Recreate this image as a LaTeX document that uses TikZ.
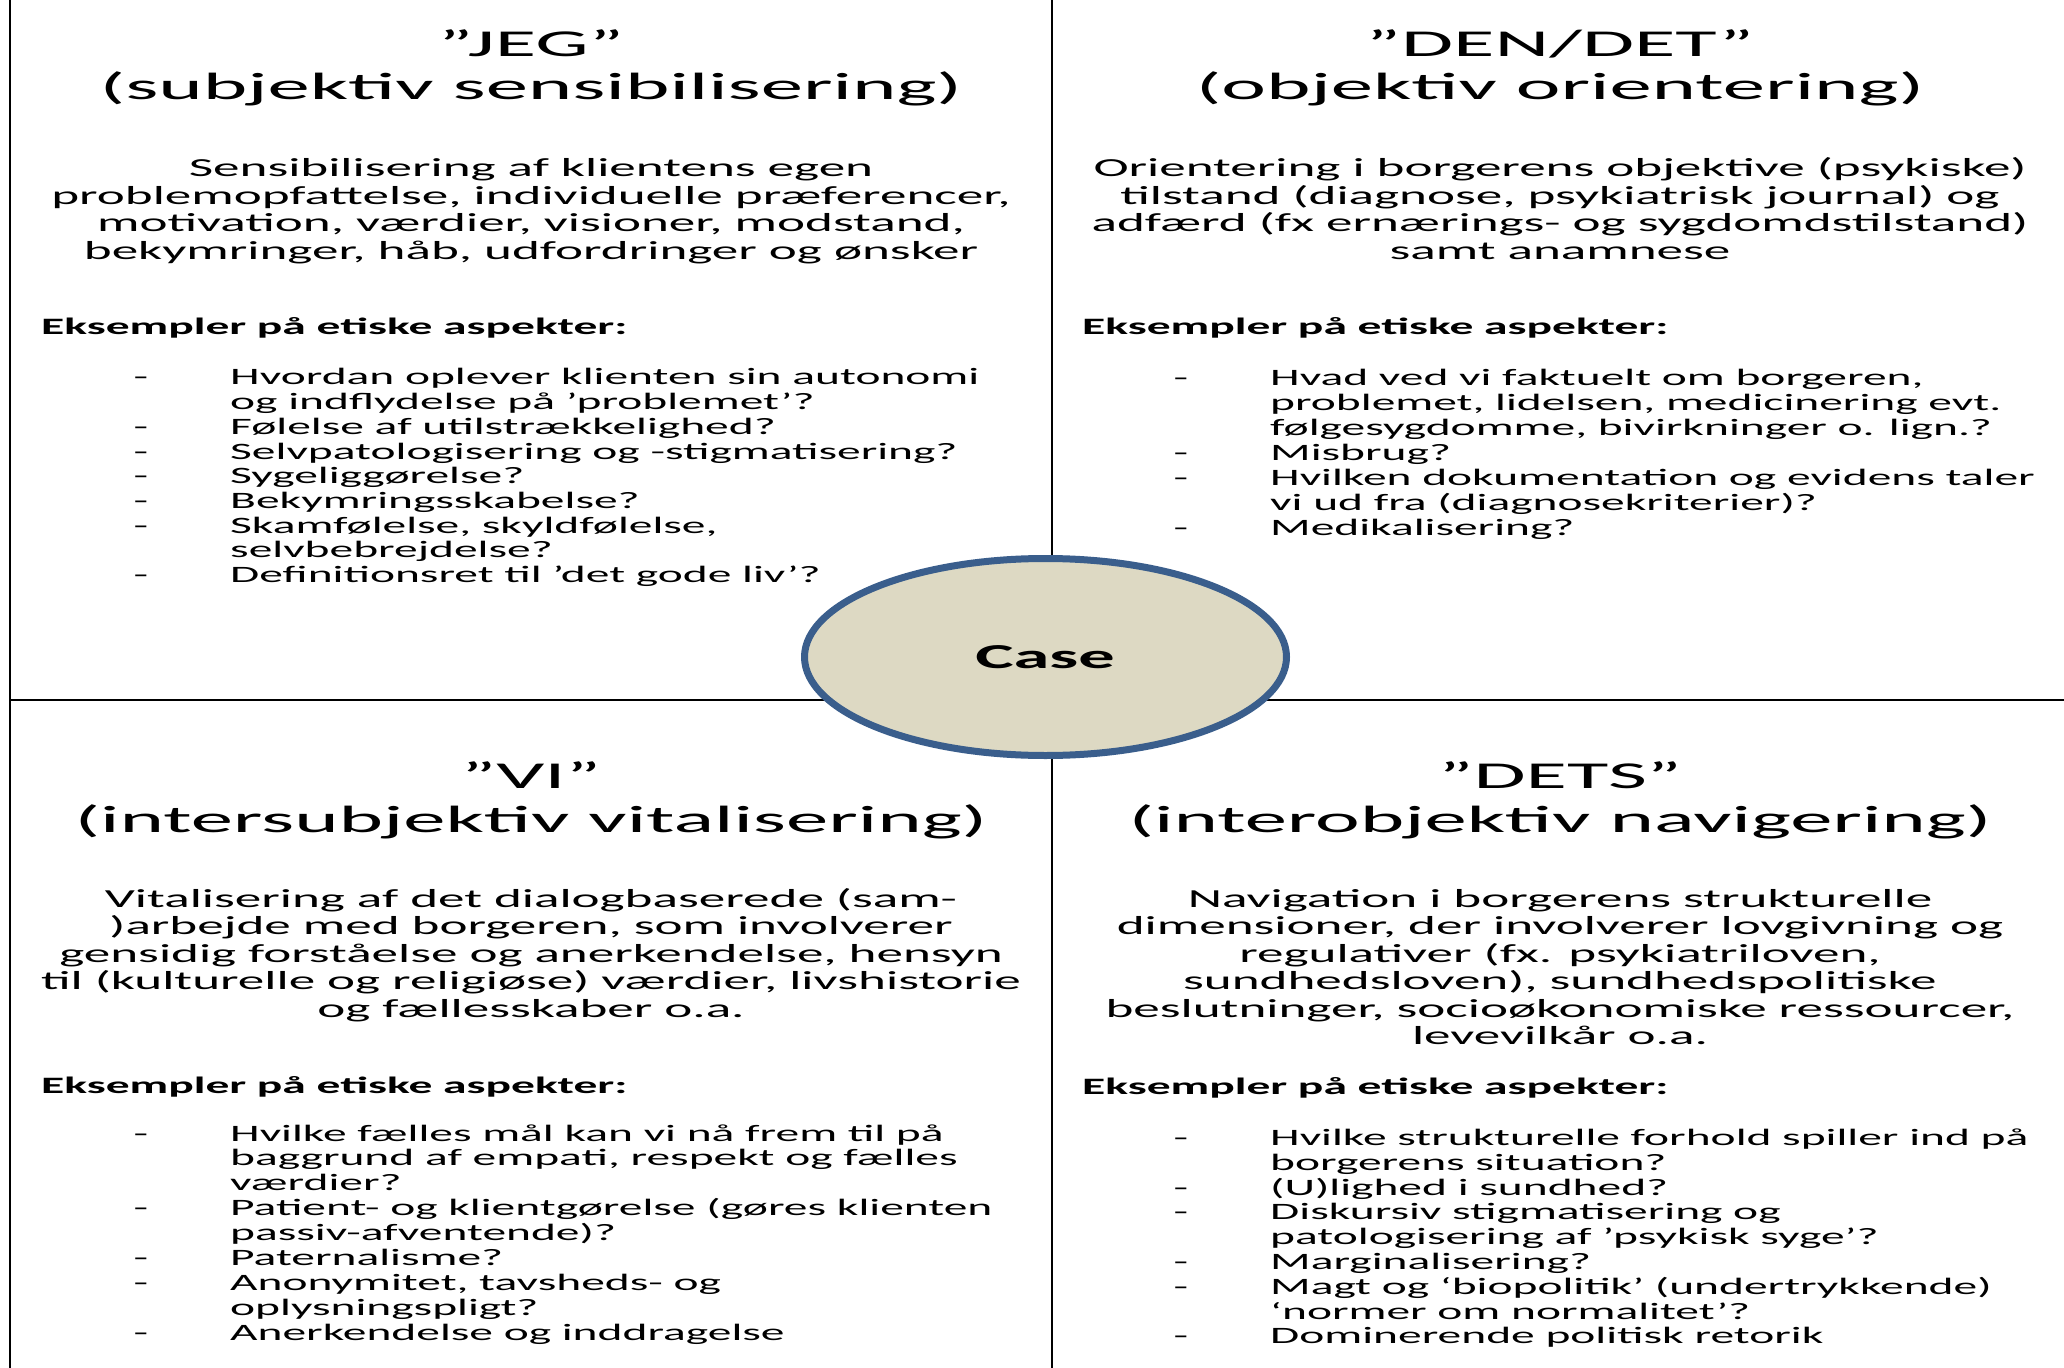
\documentclass[tikz,border=0pt]{standalone}
\usepackage{fontspec}
\setmainfont{Carlito}
\newfontfamily\ftitle{Carlito}[FakeStretch=2.23]
\newfontfamily\fpara{Carlito}[FakeStretch=2.043]
\newfontfamily\fbul{Carlito}[FakeStretch=2.02]
\newfontfamily\fbold{Carlito}[FakeStretch=2.022]
\newfontfamily\fcase{Carlito}[FakeStretch=2.07]
\definecolor{casefill}{HTML}{DDD9C3}
\definecolor{caseline}{HTML}{3A5E8C}
\usetikzlibrary{shapes.geometric}
\tikzset{
  ttl/.style={anchor=base, inner sep=0pt, font=\ftitle\fontsize{38bp}{40bp}\selectfont},
  paraline/.style={anchor=base, inner sep=0pt, font=\fpara\fontsize{26bp}{27bp}\selectfont},
  eks/.style={anchor=base west, inner sep=0pt, font=\fbold\bfseries\fontsize{23.5bp}{24bp}\selectfont},
  bul/.style={anchor=base west, inner sep=0pt, font=\fbul\fontsize{23.5bp}{24bp}\selectfont},
  dashmark/.style={anchor=base, inner sep=0pt, font=\fbul\fontsize{23.5bp}{24bp}\selectfont},
  frame/.style={line width=2.5bp, black},
  casetext/.style={anchor=base, inner sep=0pt, font=\fcase\bfseries\fontsize{35bp}{36bp}\selectfont},
}
\begin{document}
\begin{tikzpicture}[x=1bp,y=-1bp]
\useasboundingbox (0,0) rectangle (2064,1368);
% frame lines
\coordinate (lt) at (10,0);
\coordinate (lb) at (10,1368);
\coordinate (mt) at (1052,0);
\coordinate (mb) at (1052,1368);
\coordinate (hl) at (10,700);
\coordinate (hr) at (2064,700);
\draw[frame] (lt) -- (lb);
\draw[frame] (mt) -- (mb);
\draw[frame] (hl) -- (hr);
% case ellipse
\draw[draw=caseline, fill=casefill, line width=7bp] (1045.5,657) ellipse [x radius=241, y radius=98.5];
\node[casetext] (case) at (1045,668) {Case};

% ===== top left =====
\node[ttl] (t1a) at (531,56.5) {”JEG”};
\node[ttl] (t1b) at (531,100) {(subjektiv sensibilisering)};
\node[paraline] (p1a) at (531,177) {Sensibilisering af klientens egen};
\node[paraline] (p1b) at (531,204.5) {problemopfattelse, individuelle præferencer,};
\node[paraline] (p1c) at (531,232) {motivation, værdier, visioner, modstand,};
\node[paraline] (p1d) at (531,259.5) {bekymringer, håb, udfordringer og ønsker};
\node[eks] (e1) at (41,335) {Eksempler på etiske aspekter:};
\node[dashmark] (d1a) at (141,385) {-};
\node[bul] (b1a) at (230,385) {Hvordan oplever klienten sin autonomi};
\node[bul] (b1b) at (230,409.7) {og indflydelse på ’problemet’?};
\node[dashmark] (d1c) at (141,434.4) {-};
\node[bul] (b1c) at (230,434.4) {Følelse af utilstrækkelighed?};
\node[dashmark] (d1d) at (141,459.1) {-};
\node[bul] (b1d) at (230,459.1) {Selvpatologisering og -stigmatisering?};
\node[dashmark] (d1e) at (141,483.8) {-};
\node[bul] (b1e) at (230,483.8) {Sygeliggørelse?};
\node[dashmark] (d1f) at (141,508.5) {-};
\node[bul] (b1f) at (230,508.5) {Bekymringsskabelse?};
\node[dashmark] (d1g) at (141,533.2) {-};
\node[bul] (b1g) at (230,533.2) {Skamfølelse, skyldfølelse,};
\node[bul] (b1h) at (230,557.9) {selvbebrejdelse?};
\node[dashmark] (d1i) at (141,582.6) {-};
\node[bul] (b1i) at (230,582.6) {Definitionsret til ’det gode liv’?};

% ===== top right =====
\node[ttl] (t2a) at (1560,56.5) {”DEN/DET”};
\node[ttl] (t2b) at (1560,100) {(objektiv orientering)};
\node[paraline] (p2a) at (1560,177) {Orientering i borgerens objektive (psykiske)};
\node[paraline] (p2b) at (1560,204.5) {tilstand (diagnose, psykiatrisk journal) og};
\node[paraline] (p2c) at (1560,232) {adfærd (fx ernærings- og sygdomdstilstand)};
\node[paraline] (p2d) at (1560,259.5) {samt anamnese};
\node[eks] (e2) at (1082,335) {Eksempler på etiske aspekter:};
\node[dashmark] (d2a) at (1181,386) {-};
\node[bul] (b2a) at (1270,386) {Hvad ved vi faktuelt om borgeren,};
\node[bul] (b2b) at (1270,410.85) {problemet, lidelsen, medicinering evt.};
\node[bul] (b2c) at (1270,435.7) {følgesygdomme, bivirkninger o. lign.?};
\node[dashmark] (d2d) at (1181,460.55) {-};
\node[bul] (b2d) at (1270,460.55) {Misbrug?};
\node[dashmark] (d2e) at (1181,485.4) {-};
\node[bul] (b2e) at (1270,485.4) {Hvilken dokumentation og evidens taler};
\node[bul] (b2f) at (1270,510.25) {vi ud fra (diagnosekriterier)?};
\node[dashmark] (d2g) at (1181,535.1) {-};
\node[bul] (b2g) at (1270,535.1) {Medikalisering?};

% ===== bottom left =====
\node[ttl] (t3a) at (531,788.5) {”VI”};
\node[ttl] (t3b) at (531,832.5) {(intersubjektiv vitalisering)};
\node[paraline] (p3a) at (531,907) {Vitalisering af det dialogbaserede (sam-};
\node[paraline] (p3b) at (531,934.5) {)arbejde med borgeren, som involverer};
\node[paraline] (p3c) at (531,962) {gensidig forståelse og anerkendelse, hensyn};
\node[paraline] (p3d) at (531,989.5) {til (kulturelle og religiøse) værdier, livshistorie};
\node[paraline] (p3e) at (531,1017) {og fællesskaber o.a.};
\node[eks] (e3) at (41,1093.5) {Eksempler på etiske aspekter:};
\node[dashmark] (d3a) at (141,1141) {-};
\node[bul] (b3a) at (230,1141) {Hvilke fælles mål kan vi nå frem til på};
\node[bul] (b3b) at (230,1165.9) {baggrund af empati, respekt og fælles};
\node[bul] (b3c) at (230,1190.8) {værdier?};
\node[dashmark] (d3d) at (141,1215.7) {-};
\node[bul] (b3d) at (230,1215.7) {Patient- og klientgørelse (gøres klienten};
\node[bul] (b3e) at (230,1240.6) {passiv-afventende)?};
\node[dashmark] (d3f) at (141,1265.5) {-};
\node[bul] (b3f) at (230,1265.5) {Paternalisme?};
\node[dashmark] (d3g) at (141,1290.4) {-};
\node[bul] (b3g) at (230,1290.4) {Anonymitet, tavsheds- og};
\node[bul] (b3h) at (230,1315.3) {oplysningspligt?};
\node[dashmark] (d3i) at (141,1340.2) {-};
\node[bul] (b3i) at (230,1340.2) {Anerkendelse og inddragelse};

% ===== bottom right =====
\node[ttl] (t4a) at (1560,788.5) {”DETS”};
\node[ttl] (t4b) at (1560,832.5) {(interobjektiv navigering)};
\node[paraline] (p4a) at (1560,907) {Navigation i borgerens strukturelle};
\node[paraline] (p4b) at (1560,934.5) {dimensioner, der involverer lovgivning og};
\node[paraline] (p4c) at (1560,962) {regulativer (fx. psykiatriloven,};
\node[paraline] (p4d) at (1560,989.5) {sundhedsloven), sundhedspolitiske};
\node[paraline] (p4e) at (1560,1017) {beslutninger, socioøkonomiske ressourcer,};
\node[paraline] (p4f) at (1560,1044.5) {levevilkår o.a.};
\node[eks] (e4) at (1082,1094.5) {Eksempler på etiske aspekter:};
\node[dashmark] (d4a) at (1181,1145.5) {-};
\node[bul] (b4a) at (1270,1145.5) {Hvilke strukturelle forhold spiller ind på};
\node[bul] (b4b) at (1270,1170.3) {borgerens situation?};
\node[dashmark] (d4c) at (1181,1195.1) {-};
\node[bul] (b4c) at (1270,1195.1) {(U)lighed i sundhed?};
\node[dashmark] (d4d) at (1181,1219.9) {-};
\node[bul] (b4d) at (1270,1219.9) {Diskursiv stigmatisering og};
\node[bul] (b4e) at (1270,1244.7) {patologisering af ’psykisk syge’?};
\node[dashmark] (d4f) at (1181,1269.5) {-};
\node[bul] (b4f) at (1270,1269.5) {Marginalisering?};
\node[dashmark] (d4g) at (1181,1294.3) {-};
\node[bul] (b4g) at (1270,1294.3) {Magt og ‘biopolitik’ (undertrykkende)};
\node[bul] (b4h) at (1270,1319.1) {‘normer om normalitet’?};
\node[dashmark] (d4i) at (1181,1343.9) {-};
\node[bul] (b4i) at (1270,1343.9) {Dominerende politisk retorik};
\end{tikzpicture}
\end{document}
